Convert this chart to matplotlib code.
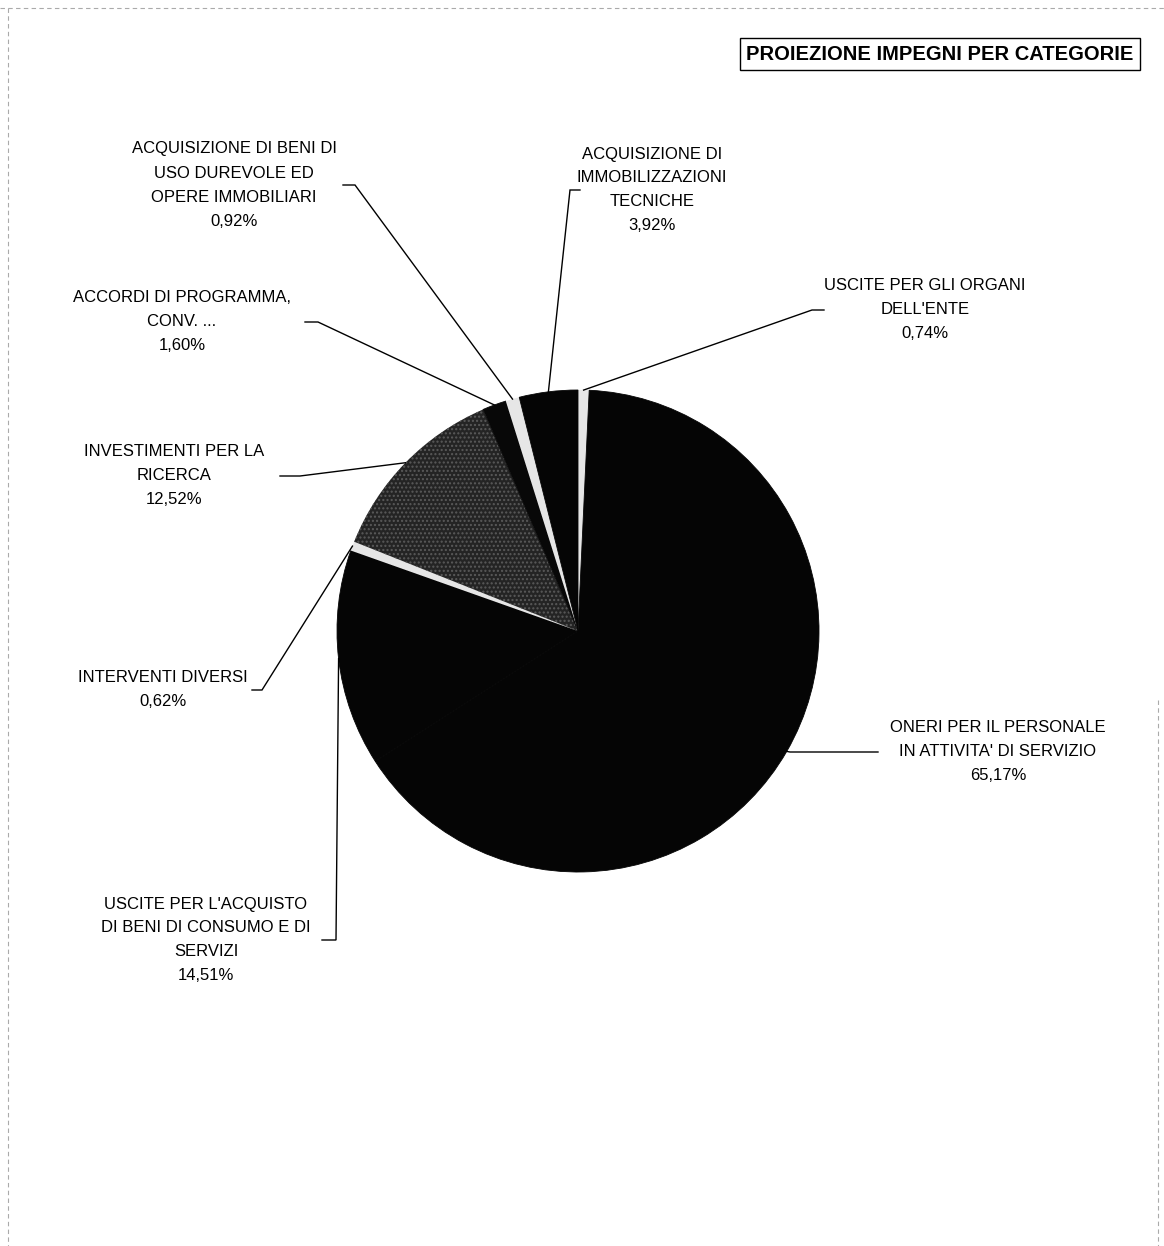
import matplotlib
matplotlib.use('Agg')
import matplotlib.pyplot as plt
import numpy as np

plt.rcParams['font.family'] = ['Liberation Sans', 'DejaVu Sans']

W, H = 1164, 1246

# slices, clockwise from 12 o'clock
categories = [
    "USCITE PER GLI ORGANI\nDELL'ENTE",
    "ONERI PER IL PERSONALE\nIN ATTIVITA' DI SERVIZIO",
    "USCITE PER L'ACQUISTO\nDI BENI DI CONSUMO E DI\nSERVIZI",
    "INTERVENTI DIVERSI",
    "INVESTIMENTI PER LA\nRICERCA",
    "ACCORDI DI PROGRAMMA,\nCONV. ...",
    "ACQUISIZIONE DI BENI DI\nUSO DUREVOLE ED\nOPERE IMMOBILIARI",
    "ACQUISIZIONE DI\nIMMOBILIZZAZIONI\nTECNICHE",
]
percent = [0.74, 65.17, 14.51, 0.62, 12.52, 1.60, 0.92, 3.92]
colors = ['#e6e6e6', '#050505', '#050505', '#e6e6e6',
          '#242424', '#080808', '#e6e6e6', '#050505']

title = 'PROIEZIONE IMPEGNI PER CATEGORIE'

# layout in pixels (y from top): label centre, knee x, stub end x
label_pos = [
    (925, 310, 812, 824),
    (998, 752, 790, 878),
    (206, 940, 336, 322),
    (163, 690, 262, 252),
    (174, 476, 300, 280),
    (182, 322, 318, 305),
    (234, 185, 355, 343),
    (652, 190, 570, 580),
]
cx, cy, r = 578, 631, 241


def py(y):
    return H - y


fig = plt.figure(figsize=(W / 100, H / 100), dpi=100)
ax = fig.add_axes([0, 0, 1, 1])

wedges, _ = ax.pie(percent, colors=colors, startangle=90, counterclock=False,
                   center=(cx, py(cy)), radius=r,
                   wedgeprops={'linewidth': 0})
for i, w in enumerate(wedges):
    if colors[i] != '#e6e6e6':
        w.set_edgecolor(colors[i])
        w.set_linewidth(0.6)
wedges[4].set_hatch('....')
wedges[4].set_edgecolor('#5a5a5a')
wedges[4].set_linewidth(0)

ax.set_xlim(0, W)
ax.set_ylim(0, H)
ax.set_aspect('equal')
ax.axis('off')

for i, w in enumerate(wedges):
    ang = np.deg2rad((w.theta1 + w.theta2) / 2)
    ex = cx + r * np.cos(ang)
    ey = py(cy) + r * np.sin(ang)
    lx, ly, kx, sx = label_pos[i]
    ax.plot([ex, kx, sx], [ey, py(ly), py(ly)], color='black', lw=1.0,
            solid_joinstyle='miter')
    txt = categories[i] + '\n' + ('%.2f' % percent[i]).replace('.', ',') + '%'
    ax.text(lx, py(ly), txt, ha='center', va='center', fontsize=12,
            linespacing=1.75, multialignment='center')

ax.text(940, py(54), title, ha='center', va='center', fontsize=14.5,
        fontweight='bold',
        bbox=dict(boxstyle='square,pad=0.3', facecolor='white',
                  edgecolor='black', lw=1.0))

# faint scan border
ax.plot([0, W], [py(8), py(8)], color='#aaaaaa', lw=0.8, ls=(0, (4, 3)))
ax.plot([8, 8], [py(8), 0], color='#aaaaaa', lw=0.8, ls=(0, (4, 3)))
ax.plot([1158, 1158], [py(700), 0], color='#aaaaaa', lw=0.8, ls=(0, (4, 3)))

fig.savefig('out.png', dpi=100, facecolor='white')
